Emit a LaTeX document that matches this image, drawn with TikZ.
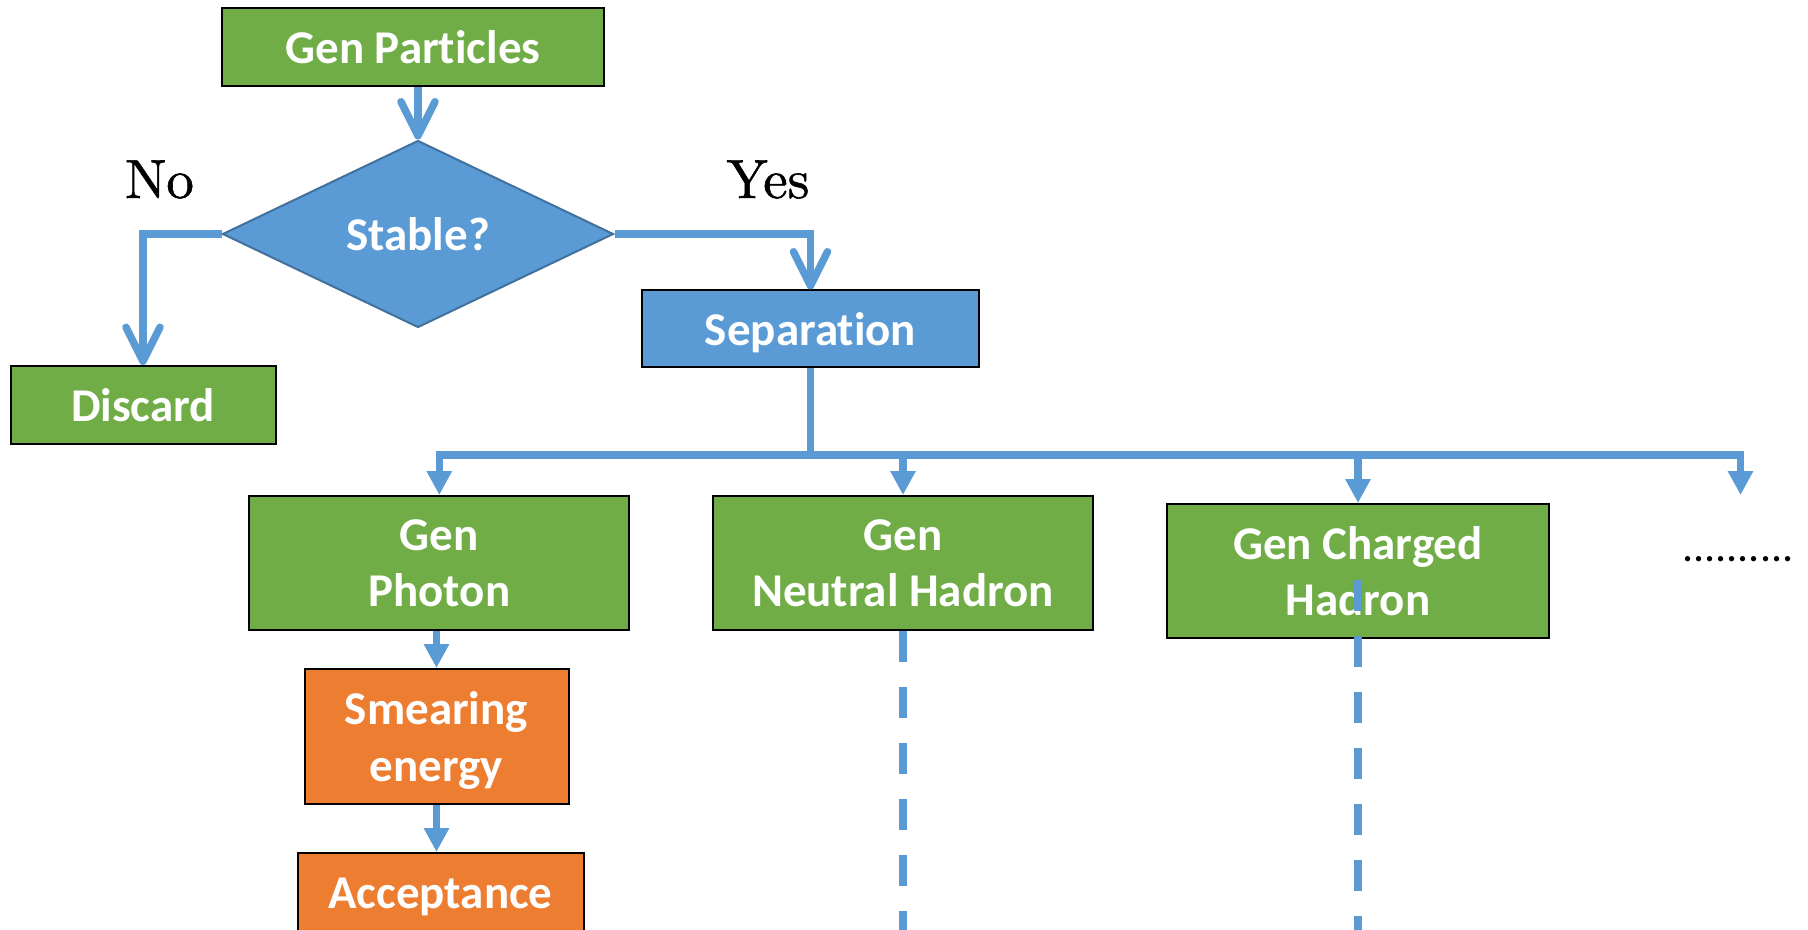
\documentclass[tikz,border=0pt]{standalone}
\usepackage{fontspec}
\newfontfamily\boxfont{Carlito}[Ligatures={NoCommon}]
\newfontfamily\labfont{lmroman10-regular}[Extension=.otf,FakeBold=1]
\usetikzlibrary{arrows.meta,shapes.geometric,calc}
\definecolor{cgreen}{HTML}{70AD47}
\definecolor{cblue}{HTML}{5B9BD5}
\definecolor{corange}{HTML}{ED7D31}
\definecolor{cdblue}{HTML}{41719C}
\begin{document}
\begin{tikzpicture}[x=0.5pt,y=-0.5pt,
  box/.style={draw=black, line width=1pt, inner sep=0pt, text=white, text depth=0pt,
    font=\boxfont\bfseries\fontsize{23.5}{28.2}\selectfont, align=center},
  greenbox/.style={box, fill=cgreen},
  bluebox/.style={box, fill=cblue},
  orangebox/.style={box, fill=corange},
  lab/.style={inner sep=0pt, font=\labfont\fontsize{27.5}{33}\selectfont},
  conn/.style={draw=cblue, line width=3.75pt},
  openarr/.style={-{Straight Barb[round,length=17pt,width=17pt]}},
  triarr/.style={-{Triangle[length=12pt,width=12pt]}},
  dashline/.style={draw=cblue, line width=3.75pt, dash pattern=on 15.5pt off 12.5pt}
]
\useasboundingbox (0,0) rectangle (1808,930);
\fill[white] (0,0) rectangle (1808,930);

% nodes
\node[greenbox, minimum width=191pt, minimum height=39pt] (gp) at (413,47) {Gen Particles};
\node[diamond, draw=cdblue, line width=1pt, fill=cblue, inner sep=0pt,
      minimum width=195.5pt, minimum height=93.5pt, text=white,
      font=\boxfont\bfseries\fontsize{23.5}{28.2}\selectfont] (stable) at (418,234) {Stable?};
\node[greenbox, minimum width=132.5pt, minimum height=39pt] (discard) at (143,405) {Discard};
\node[bluebox, minimum width=168.5pt, minimum height=38.5pt] (sep) at (810.5,329) {Separation};
\node[greenbox, minimum width=190pt, minimum height=67pt] (photon) at (439.3,563) {Gen\\Photon};
\node[greenbox, minimum width=190pt, minimum height=67pt] (neutral) at (903,563) {Gen\\Neutral Hadron};
\node[greenbox, minimum width=191pt, minimum height=67pt] (charged) at (1358,571) {Gen Charged\\Hadron};
\node[orangebox, minimum width=132pt, minimum height=67.5pt] (smear) at (436.5,736.5) {Smearing\\energy};
\node[orangebox, minimum width=143pt, minimum height=40.5pt] (accept) at (440.5,893.5) {Acceptance};

\node[lab, anchor=base] (no) at (159.5,198) {No};
\node[lab, anchor=base] (yes) at (768,198) {Yes};
\node[inner sep=0pt, anchor=base west, font=\boxfont\fontsize{22}{26}\selectfont] (dots) at (1682,561.5) {..........};

\coordinate (bus) at (810.5,455);
\coordinate (more) at (1740.5,495);
\coordinate (bottom) at (0,960);

% connectors
\draw[conn,openarr] (stable.north |- gp.south) -- (stable.north);
\draw[conn,openarr] (stable.west) -| (discard.north);
\draw[conn,openarr] (stable.east) -| (sep.north);
\draw[conn] (sep.south) -- (bus);
\draw[conn,triarr] (bus) -| (photon.north);
\draw[conn,triarr] (bus) -| (neutral.north);
\draw[conn,triarr] (bus) -| (charged.north);
\draw[conn,triarr] (bus) -| (more);
\draw[conn,triarr] (smear.north |- photon.south) -- (smear.north);
\draw[conn,triarr] (smear.south) -- (smear.south |- accept.north);
\draw[dashline] (neutral.south) -- (neutral.south |- bottom);
\draw[dashline] ($(charged.center)+(0,9)$) -- (charged.center |- bottom);
\end{tikzpicture}
\end{document}
